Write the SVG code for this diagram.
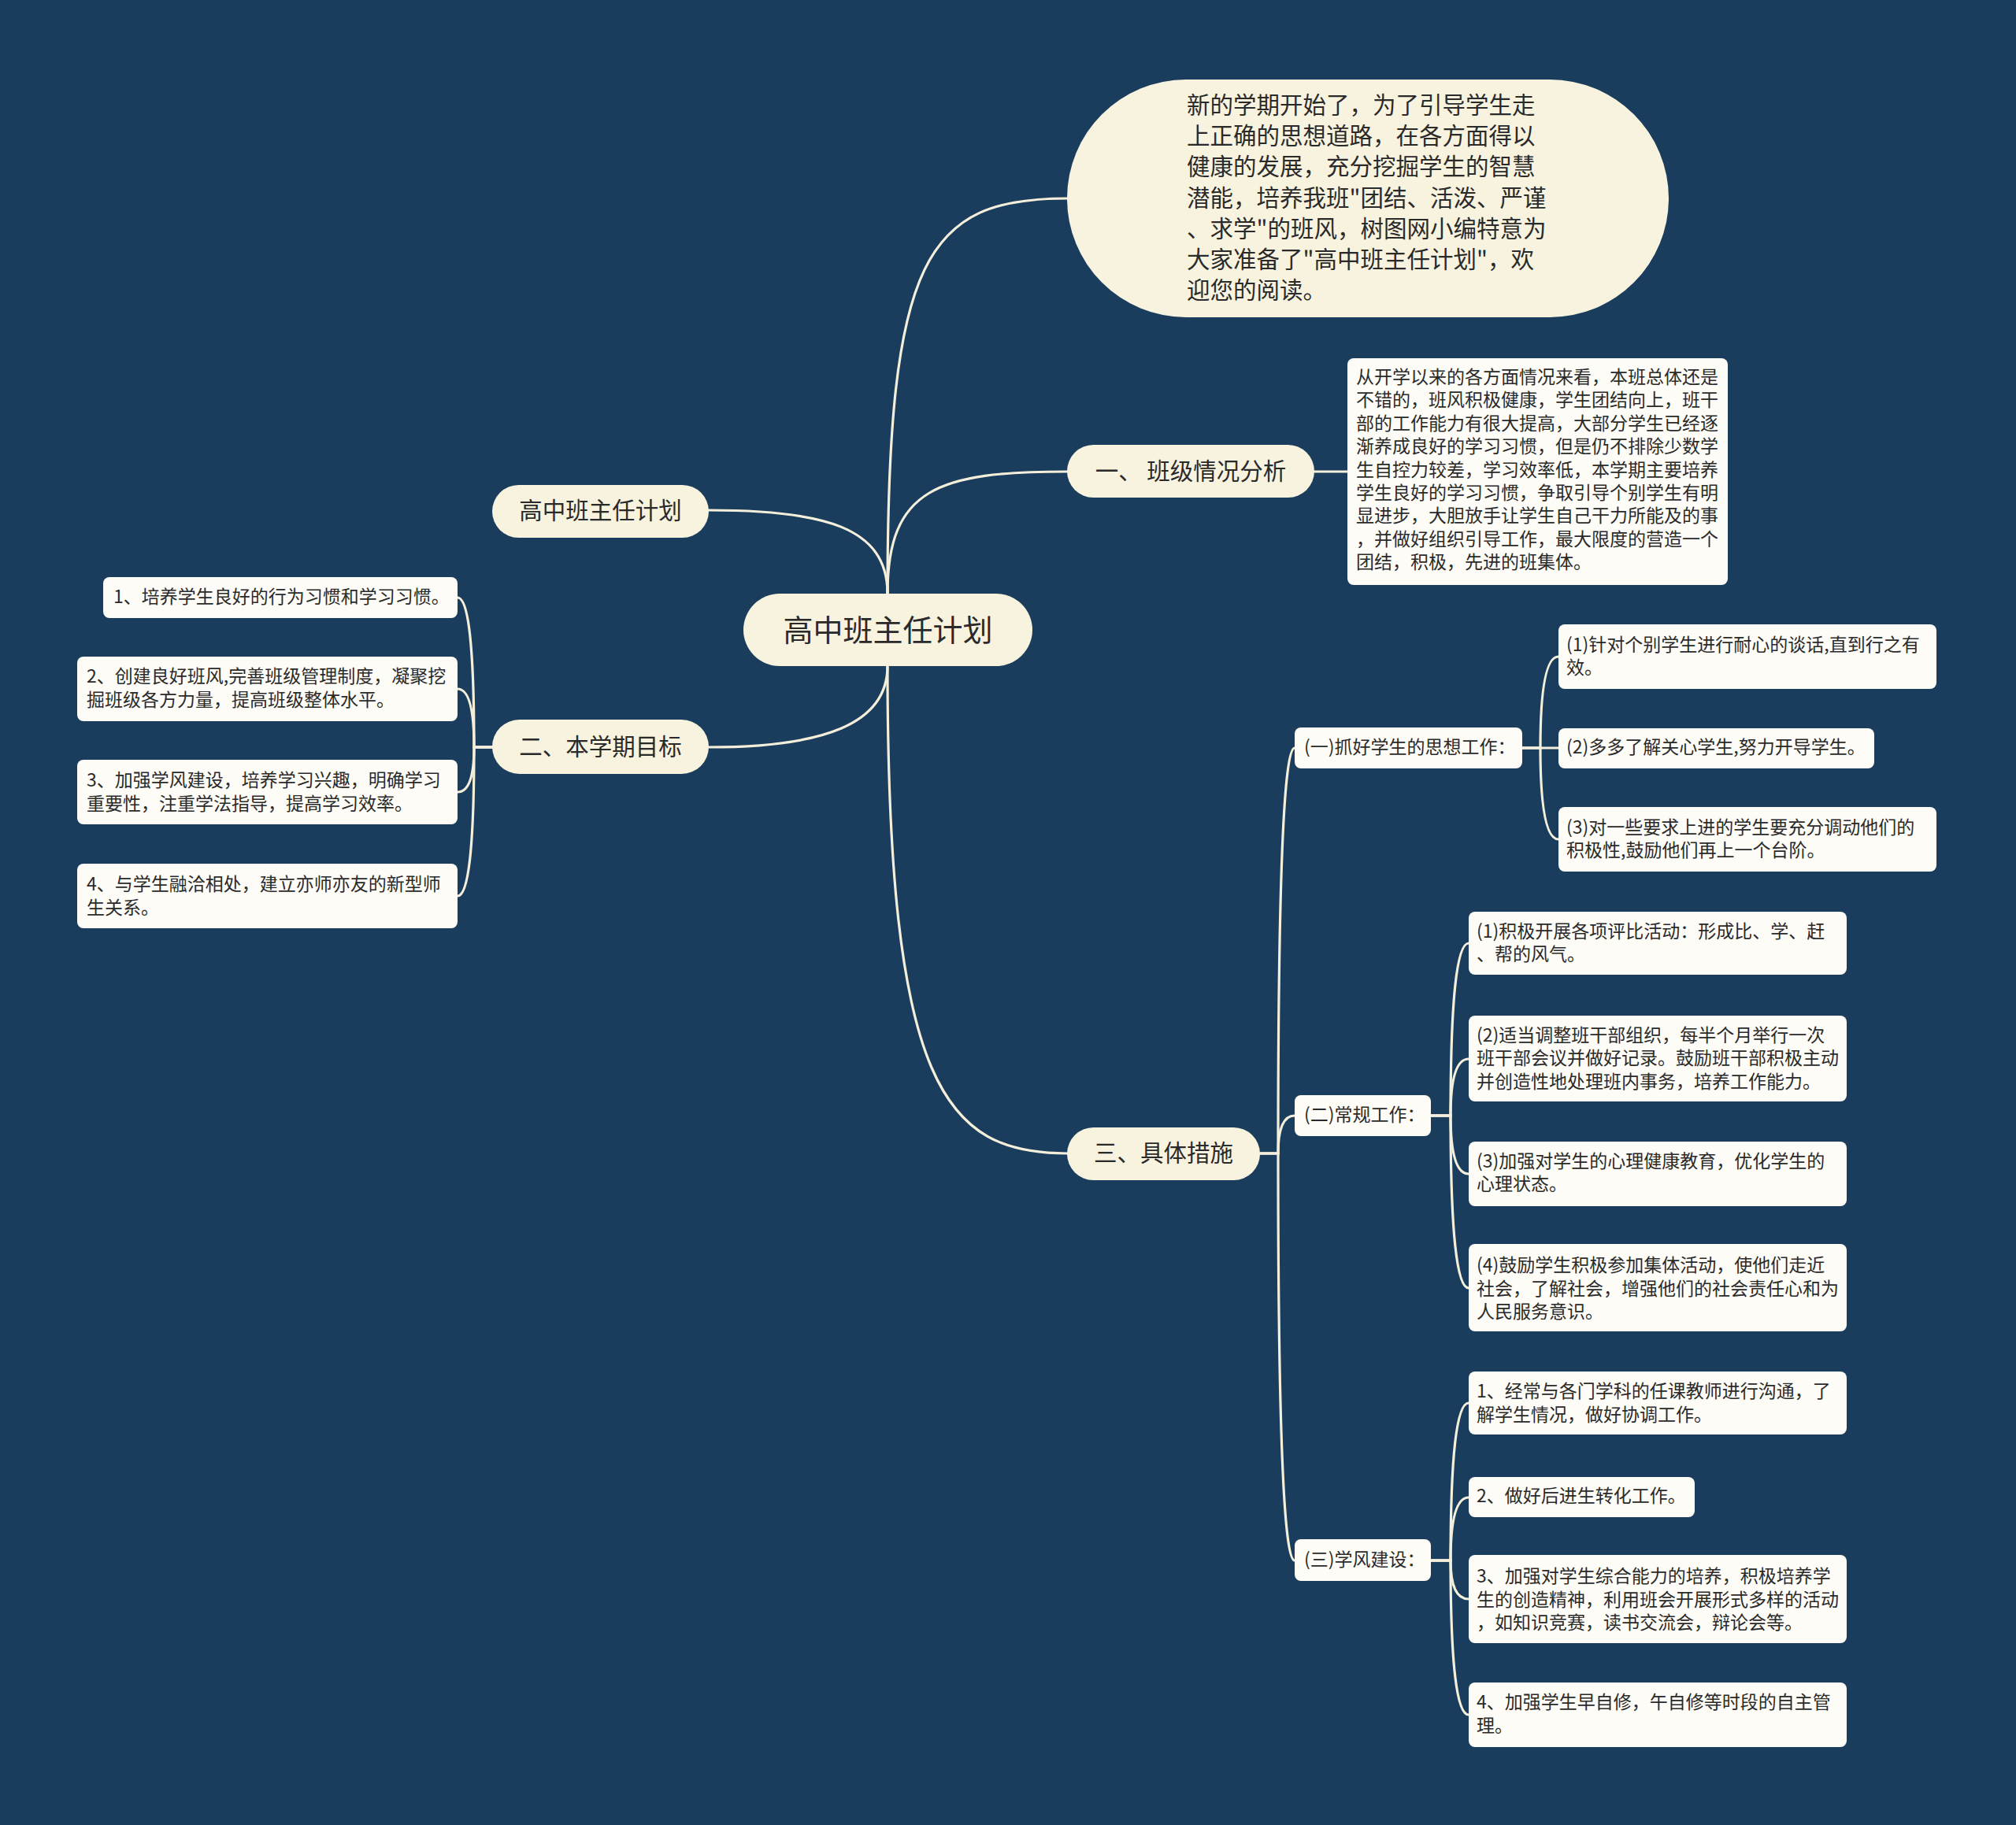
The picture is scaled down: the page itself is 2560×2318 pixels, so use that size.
<svg xmlns="http://www.w3.org/2000/svg" width="2560" height="2318" viewBox="0 0 2560 2318">
<style>
.bg{fill:#1a3d5d}
.l0{fill:#f8f3df}
.l1{fill:#f8f3df}
.lf{fill:#fdfcf6}
.ln{fill:none;stroke:#f4efdb;stroke-width:3.2;stroke-linecap:round}
text{font-family:"Noto Sans CJK SC","Noto Sans",sans-serif;fill:#2a2a2a;dominant-baseline:central;transform:translateY(-3px)}
.t0{font-size:38px}
.t1{font-size:29.5px}
.t2{font-size:23px}
.tm{text-anchor:middle}
</style>
<rect class="bg" x="0" y="0" width="2560" height="2318"/>
<g id="connectors">
<path class="ln" d="M1127,754 C1127,327 1176,252 1355,252"/>
<path class="ln" d="M1127,754 C1127,620 1192,599 1355,599"/>
<path class="ln" d="M1127,754 C1127,669 1045,648 900,648"/>
<path class="ln" d="M1127,846 C1127,920 1045,949 900,949"/>
<path class="ln" d="M1127,846 C1127,1380 1200,1465 1355,1465"/>
<path class="ln" d="M1669,599 H1711"/>
<path class="ln" d="M625,949 H602 Q602,759 581,759"/>
<path class="ln" d="M625,949 H602 Q602,875 581,875"/>
<path class="ln" d="M625,949 H602 Q602,1006 581,1006"/>
<path class="ln" d="M625,949 H602 Q602,1138 581,1138"/>
<path class="ln" d="M1600,1465 H1623 Q1623,950 1644,950"/>
<path class="ln" d="M1600,1465 H1623 Q1623,1417 1644,1417"/>
<path class="ln" d="M1600,1465 H1623 Q1623,1982 1644,1982"/>
<path class="ln" d="M1933,950 H1956 Q1956,834 1979,834"/>
<path class="ln" d="M1933,950 H1979"/>
<path class="ln" d="M1933,950 H1956 Q1956,1066 1979,1066"/>
<path class="ln" d="M1817,1417 H1842 Q1842,1198 1865,1198"/>
<path class="ln" d="M1817,1417 H1842 Q1842,1345 1865,1345"/>
<path class="ln" d="M1817,1417 H1842 Q1842,1491 1865,1491"/>
<path class="ln" d="M1817,1417 H1842 Q1842,1636 1865,1636"/>
<path class="ln" d="M1817,1982 H1842 Q1842,1782 1865,1782"/>
<path class="ln" d="M1817,1982 H1842 Q1842,1902 1865,1902"/>
<path class="ln" d="M1817,1982 H1842 Q1842,2031 1865,2031"/>
<path class="ln" d="M1817,1982 H1842 Q1842,2178 1865,2178"/>
</g>
<g id="root">
<rect class="l0" x="944" y="754" width="367" height="92" rx="46"/>
<text class="t0 tm" x="1127.5" y="800">高中班主任计划</text>
</g>
<g id="intro">
<rect class="l1" x="1355" y="101" width="764" height="302" rx="151"/>
<text class="t1" x="1507" y="134">新的学期开始了，为了引导学生走</text>
<text class="t1" x="1507" y="173.2">上正确的思想道路，在各方面得以</text>
<text class="t1" x="1507" y="212.4">健康的发展，充分挖掘学生的智慧</text>
<text class="t1" x="1507" y="251.6">潜能，培养我班"团结、活泼、严谨</text>
<text class="t1" x="1507" y="290.8">、求学"的班风，树图网小编特意为</text>
<text class="t1" x="1507" y="330">大家准备了"高中班主任计划"，欢</text>
<text class="t1" x="1507" y="369.2">迎您的阅读。</text>
</g>
<g id="n1">
<rect class="l1" x="1355" y="565" width="314" height="67" rx="33.5"/>
<text class="t1 tm" x="1512" y="599">一、 班级情况分析</text>
</g>
<g id="n1-desc">
<rect class="lf" x="1711" y="455" width="483" height="288" rx="8"/>
<text class="t2" x="1722" y="480">从开学以来的各方面情况来看，本班总体还是</text>
<text class="t2" x="1722" y="509.4">不错的，班风积极健康，学生团结向上，班干</text>
<text class="t2" x="1722" y="538.8">部的工作能力有很大提高，大部分学生已经逐</text>
<text class="t2" x="1722" y="568.2">渐养成良好的学习习惯，但是仍不排除少数学</text>
<text class="t2" x="1722" y="597.6">生自控力较差，学习效率低，本学期主要培养</text>
<text class="t2" x="1722" y="627">学生良好的学习习惯，争取引导个别学生有明</text>
<text class="t2" x="1722" y="656.4">显进步，大胆放手让学生自己干力所能及的事</text>
<text class="t2" x="1722" y="685.8">，并做好组织引导工作，最大限度的营造一个</text>
<text class="t2" x="1722" y="715.2">团结，积极，先进的班集体。</text>
</g>
<g id="n-title">
<rect class="l1" x="625" y="616" width="275" height="67" rx="33.5"/>
<text class="t1 tm" x="762.5" y="649">高中班主任计划</text>
</g>
<g id="n2">
<rect class="l1" x="625" y="914" width="275" height="69" rx="34.5"/>
<text class="t1 tm" x="762.5" y="949">二、本学期目标</text>
</g>
<g id="n2-1">
<rect class="lf" x="131" y="733" width="450" height="52" rx="8"/>
<text class="t2" x="144" y="759">1、培养学生良好的行为习惯和学习习惯。</text>
</g>
<g id="n2-2">
<rect class="lf" x="98" y="834" width="483" height="82" rx="8"/>
<text class="t2" x="110" y="860">2、创建良好班风,完善班级管理制度，凝聚挖</text>
<text class="t2" x="110" y="890">掘班级各方力量，提高班级整体水平。</text>
</g>
<g id="n2-3">
<rect class="lf" x="98" y="965" width="483" height="82" rx="8"/>
<text class="t2" x="110" y="992">3、加强学风建设，培养学习兴趣，明确学习</text>
<text class="t2" x="110" y="1022">重要性，注重学法指导，提高学习效率。</text>
</g>
<g id="n2-4">
<rect class="lf" x="98" y="1097" width="483" height="82" rx="8"/>
<text class="t2" x="110" y="1124">4、与学生融洽相处，建立亦师亦友的新型师</text>
<text class="t2" x="110" y="1154">生关系。</text>
</g>
<g id="n3">
<rect class="l1" x="1355" y="1432" width="245" height="67" rx="33.5"/>
<text class="t1 tm" x="1477.5" y="1465">三、具体措施</text>
</g>
<g id="n3-1">
<rect class="lf" x="1644" y="924" width="289" height="52" rx="8"/>
<text class="t2" x="1656" y="950">(一)抓好学生的思想工作：</text>
</g>
<g id="n3-1-1">
<rect class="lf" x="1979" y="793" width="480" height="82" rx="8"/>
<text class="t2" x="1989" y="820">(1)针对个别学生进行耐心的谈话,直到行之有</text>
<text class="t2" x="1989" y="849">效。</text>
</g>
<g id="n3-1-2">
<rect class="lf" x="1979" y="925" width="401" height="51" rx="8"/>
<text class="t2" x="1989" y="950">(2)多多了解关心学生,努力开导学生。</text>
</g>
<g id="n3-1-3">
<rect class="lf" x="1979" y="1025" width="480" height="82" rx="8"/>
<text class="t2" x="1989" y="1052">(3)对一些要求上进的学生要充分调动他们的</text>
<text class="t2" x="1989" y="1081">积极性,鼓励他们再上一个台阶。</text>
</g>
<g id="n3-2">
<rect class="lf" x="1644" y="1391" width="173" height="52" rx="8"/>
<text class="t2" x="1656" y="1417">(二)常规工作：</text>
</g>
<g id="n3-2-1">
<rect class="lf" x="1865" y="1158" width="480" height="80" rx="8"/>
<text class="t2" x="1875" y="1184">(1)积极开展各项评比活动：形成比、学、赶</text>
<text class="t2" x="1875" y="1213">、帮的风气。</text>
</g>
<g id="n3-2-2">
<rect class="lf" x="1865" y="1290" width="480" height="109" rx="8"/>
<text class="t2" x="1875" y="1316">(2)适当调整班干部组织，每半个月举行一次</text>
<text class="t2" x="1875" y="1345">班干部会议并做好记录。鼓励班干部积极主动</text>
<text class="t2" x="1875" y="1375">并创造性地处理班内事务，培养工作能力。</text>
</g>
<g id="n3-2-3">
<rect class="lf" x="1865" y="1450" width="480" height="82" rx="8"/>
<text class="t2" x="1875" y="1476">(3)加强对学生的心理健康教育，优化学生的</text>
<text class="t2" x="1875" y="1505">心理状态。</text>
</g>
<g id="n3-2-4">
<rect class="lf" x="1865" y="1580" width="480" height="111" rx="8"/>
<text class="t2" x="1875" y="1608">(4)鼓励学生积极参加集体活动，使他们走近</text>
<text class="t2" x="1875" y="1638">社会，了解社会，增强他们的社会责任心和为</text>
<text class="t2" x="1875" y="1667">人民服务意识。</text>
</g>
<g id="n3-3">
<rect class="lf" x="1644" y="1955" width="173" height="53" rx="8"/>
<text class="t2" x="1656" y="1982">(三)学风建设：</text>
</g>
<g id="n3-3-1">
<rect class="lf" x="1865" y="1742" width="480" height="80" rx="8"/>
<text class="t2" x="1875" y="1768">1、经常与各门学科的任课教师进行沟通，了</text>
<text class="t2" x="1875" y="1798">解学生情况，做好协调工作。</text>
</g>
<g id="n3-3-2">
<rect class="lf" x="1865" y="1876" width="287" height="51" rx="8"/>
<text class="t2" x="1875" y="1901">2、做好后进生转化工作。</text>
</g>
<g id="n3-3-3">
<rect class="lf" x="1865" y="1975" width="480" height="112" rx="8"/>
<text class="t2" x="1875" y="2003">3、加强对学生综合能力的培养，积极培养学</text>
<text class="t2" x="1875" y="2033">生的创造精神，利用班会开展形式多样的活动</text>
<text class="t2" x="1875" y="2062">，如知识竞赛，读书交流会，辩论会等。</text>
</g>
<g id="n3-3-4">
<rect class="lf" x="1865" y="2137" width="480" height="82" rx="8"/>
<text class="t2" x="1875" y="2163">4、加强学生早自修，午自修等时段的自主管</text>
<text class="t2" x="1875" y="2193">理。</text>
</g>
</svg>
